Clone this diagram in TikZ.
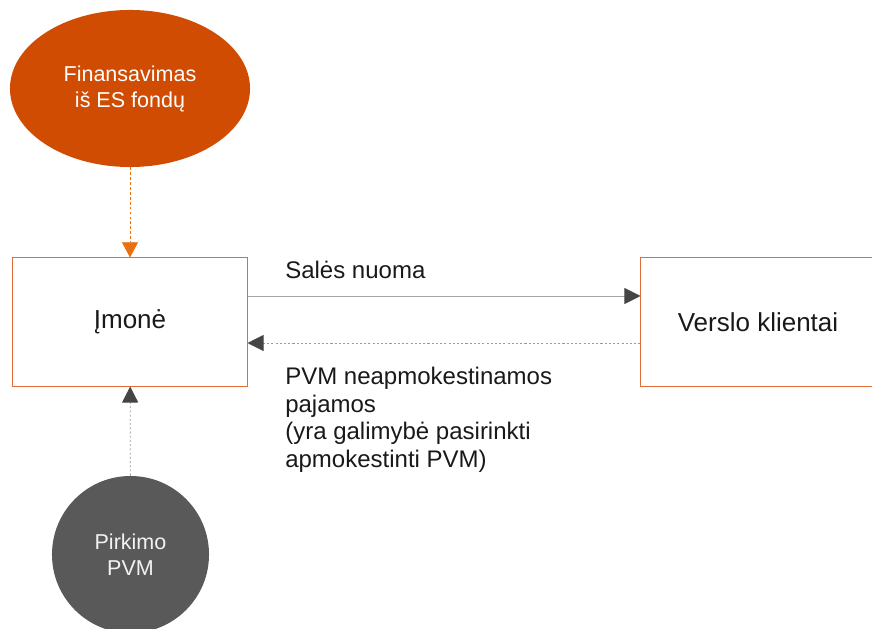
\documentclass[tikz,border=0pt]{standalone}
\usepackage{fontspec}
\setmainfont{Liberation Sans}
\usetikzlibrary{shapes.geometric,arrows.meta}
\definecolor{fundorange}{HTML}{D14C03}
\definecolor{boxorange}{HTML}{DE6E35}
\definecolor{arroworange}{HTML}{E8700F}
\definecolor{circgray}{HTML}{595959}
\definecolor{headgray}{HTML}{454545}
\definecolor{linegray}{HTML}{A6A6A6}
\definecolor{dotgray}{HTML}{9A9A9A}

\begin{document}
\begin{tikzpicture}[x=0.025cm, y=-0.025cm,
            every node/.style={
            inner sep=0pt, text=black!90, font=\fontsize{17.07pt}{19.6pt}\selectfont}
        ]
        \tikzstyle {orange_ell} = [ellipse, fill=fundorange, text=white, align=center,
            minimum width=6cm, minimum height=3.925cm, font=\fontsize{15.3pt}{18.5pt}\selectfont]
        \tikzstyle {gray_circ} = [circle, fill=circgray, text=white!95!black, align=center,
            minimum size=3.925cm, font=\fontsize{15.3pt}{18.5pt}\selectfont]
        \tikzstyle {orange_box} = [rectangle, draw=boxorange, line width=0.7pt,
            minimum width=5.85cm, minimum height=3.2cm, font=\fontsize{18.5pt}{21pt}\selectfont]
        \tikzstyle {orange_arrow} = [draw=arroworange, line width=0.6pt, dash pattern=on 2pt off 1.5pt,
            -{Triangle[width=0.4cm, length=0.38cm]}]
        \tikzstyle {gray_arrow} = [draw=linegray, line width=0.7pt,
            -{Triangle[width=0.4cm, length=0.4cm, color=headgray]}]
        \tikzstyle {dotted_arrow} = [draw=dotgray, line width=0.6pt, dash pattern=on 1.5pt off 1.5pt,
            -{Triangle[width=0.4cm, length=0.4cm, color=headgray]}]

        \useasboundingbox (0,0) rectangle (872,629);

        \node [orange_ell] (fund) at (130,88.5) {Finansavimas\\iš ES fondų};
        \node [orange_box] (imone) at (130,322) {Įmonė};
        \node [orange_box] (klientai) at (758,322) {Verslo klientai};
        \node [gray_circ] (pirkimo) at (130.5,554.5) {Pirkimo\\PVM};

        \node [anchor=west] (nuoma) at (285,270) {Salės nuoma};
        \node [anchor=north west, align=left] (pajamos) at (285,367)
            {PVM neapmokestinamos\\pajamos\\(yra galimybė pasirinkti\\apmokestinti PVM)};

        \draw [orange_arrow] (fund) -- (imone);
        \draw [gray_arrow] ([yshift=0.65cm]imone.east) -- ([yshift=0.65cm]klientai.west);
        \draw [dotted_arrow] ([yshift=-0.525cm]klientai.west) -- ([yshift=-0.525cm]imone.east);
        \draw [dotted_arrow] (pirkimo) -- (imone);

        \end{tikzpicture}
\end{document}
